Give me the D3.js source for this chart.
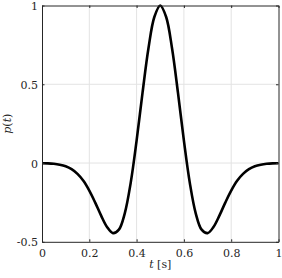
<!DOCTYPE html>
<html>
<head>
<meta charset="utf-8">
<script src="https://cdn.jsdelivr.net/npm/d3@7"></script>
<style>
  body { margin: 0; background: #fff; }
  svg { display: block; }
</style>
</head>
<body>
<svg width="282" height="278"></svg>
<script>
// pulse p(t), values
var tVals = [0, 0.025, 0.05, 0.075, 0.1, 0.125, 0.15, 0.175, 0.2, 0.225, 0.25, 0.275, 0.3, 0.325, 0.35, 0.375, 0.4, 0.425, 0.45, 0.475,
  0.5, 0.525, 0.55, 0.575, 0.6, 0.625, 0.65, 0.675, 0.7, 0.725, 0.75, 0.775, 0.8, 0.825, 0.85, 0.875, 0.9, 0.925, 0.95, 0.975, 1];
var pVals = [-0.001, -0.002, -0.005, -0.011, -0.021, -0.039, -0.069, -0.113, -0.175, -0.251, -0.334, -0.406, -0.445, -0.423, -0.319, -0.126, 0.142, 0.445, 0.727, 0.927,
  1.0, 0.927, 0.727, 0.445, 0.142, -0.126, -0.319, -0.423, -0.445, -0.406, -0.334, -0.251, -0.175, -0.113, -0.069, -0.039, -0.021, -0.011, -0.005, -0.002, -0.001];

var xTicks = [0, 0.2, 0.4, 0.6, 0.8, 1];
var yTicks = [-0.5, 0, 0.5, 1];
var xTickLabels = ["0", "0.2", "0.4", "0.6", "0.8", "1"];
var yTickLabels = ["-0.5", "0", "0.5", "1"];

var FONT = "'DejaVu Serif', serif";
var FS = 11;

var svg = d3.select("svg");

var mLeft = 42, mTop = 5.5, w = 236.5, h = 236.3;

var x = d3.scaleLinear().domain([0, 1]).range([mLeft, mLeft + w]);
var y = d3.scaleLinear().domain([-0.5, 1]).range([mTop + h, mTop]);

// grid
svg.append("g").selectAll("line")
  .data(xTicks.slice(1, -1))
  .enter().append("line")
  .attr("x1", d => x(d)).attr("x2", d => x(d))
  .attr("y1", mTop).attr("y2", mTop + h)
  .attr("stroke", "#e3e3e3").attr("stroke-width", 1);

svg.append("g").selectAll("line")
  .data(yTicks.slice(1, -1))
  .enter().append("line")
  .attr("x1", mLeft).attr("x2", mLeft + w)
  .attr("y1", d => y(d)).attr("y2", d => y(d))
  .attr("stroke", "#e3e3e3").attr("stroke-width", 1);

// the curve
var pts = tVals.map((t, i) => [t, pVals[i]]);
var line = d3.line()
  .x(d => x(d[0]))
  .y(d => y(d[1]))
  .curve(d3.curveCatmullRom.alpha(0.5));

svg.append("path")
  .datum(pts)
  .attr("d", line)
  .attr("fill", "none")
  .attr("stroke", "#000")
  .attr("stroke-width", 2.6)
  .attr("stroke-linejoin", "round");

// box + inward ticks
var tl = 2.5;
var axB = d3.axisBottom(x).tickValues(xTicks).tickSizeInner(-tl).tickSizeOuter(0)
  .tickFormat((d, i) => xTickLabels[i]);
var axT = d3.axisTop(x).tickValues(xTicks).tickSizeInner(-tl).tickSizeOuter(0).tickFormat("");
var axL = d3.axisLeft(y).tickValues(yTicks).tickSizeInner(-tl).tickSizeOuter(0)
  .tickFormat((d, i) => yTickLabels[i]);
var axR = d3.axisRight(y).tickValues(yTicks).tickSizeInner(-tl).tickSizeOuter(0).tickFormat("");

function styleAxis(g) {
  g.attr("font-family", FONT).attr("font-size", FS);
  g.select(".domain").attr("stroke", "#262626").attr("stroke-width", 1);
  g.selectAll(".tick line").attr("stroke", "#262626");
  g.selectAll(".tick text").style("font-family", FONT).attr("fill", "#262626");
}

svg.append("g").attr("transform", "translate(0," + (mTop + h) + ")").call(axB).call(styleAxis)
  .selectAll(".tick text").attr("dy", null).attr("y", 15);
svg.append("g").attr("transform", "translate(0," + mTop + ")").call(axT).call(styleAxis);
svg.append("g").attr("transform", "translate(" + mLeft + ",0)").call(axL).call(styleAxis)
  .selectAll(".tick text").attr("x", -4).attr("dy", "0.36em");
svg.append("g").attr("transform", "translate(" + (mLeft + w) + ",0)").call(axR).call(styleAxis);

// axis labels
var xl = svg.append("text")
  .attr("x", x(0.5)).attr("y", 267.5)
  .attr("text-anchor", "middle")
  .style("font-family", FONT)
  .attr("font-size", FS).attr("fill", "#262626");
xl.append("tspan").attr("font-style", "italic").text("t");
xl.append("tspan").text(" [s]");

var yl = svg.append("text")
  .attr("transform", "translate(11," + y(0.25) + ") rotate(-90)")
  .attr("text-anchor", "middle")
  .style("font-family", FONT)
  .attr("font-size", FS).attr("fill", "#262626");
yl.append("tspan").attr("font-style", "italic").text("p");
yl.append("tspan").text("(");
yl.append("tspan").attr("font-style", "italic").text("t");
yl.append("tspan").text(")");
</script>
</body>
</html>
